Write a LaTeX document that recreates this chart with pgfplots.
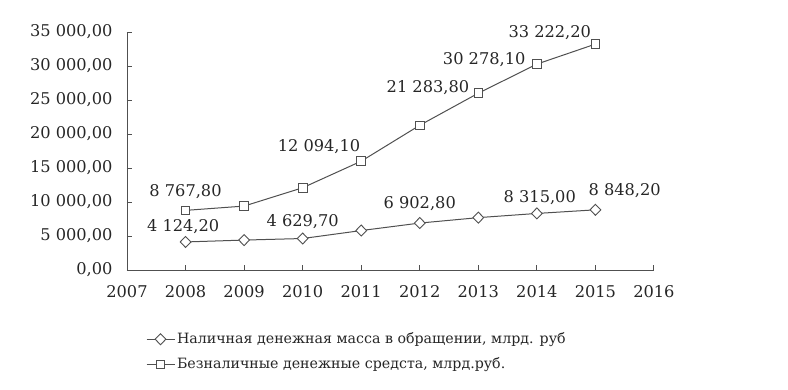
\documentclass[border=0pt]{standalone}
\usepackage{pgfplots}
\pgfplotsset{compat=1.18}
\usepackage{fontspec}
\setmainfont{DejaVu Serif}
\definecolor{ln}{HTML}{505050}
\definecolor{tx}{HTML}{262626}
\begin{document}
\fontsize{16}{19}\selectfont
\begin{tikzpicture}
\path[use as bounding box] (0,0) rectangle (788pt,390pt);
\begin{axis}[
  at={(127pt,120pt)}, anchor=south west,
  scale only axis, width=527pt, height=238pt,
  xmin=2007, xmax=2016, ymin=0, ymax=35000,
  axis x line*=bottom, axis y line*=left,
  axis line style={ln, line width=0.9pt, -},
  tick style={ln, line width=0.9pt},
  major tick length=5pt,
  tick align=inside,
  xtick={2007,...,2016},
  ytick={0,5000,...,35000},
  scaled y ticks=false,
  /pgf/number format/assume math mode=true,
  yticklabel style={xshift=-9pt, /pgf/number format/.cd, fixed, fixed zerofill, precision=2, use comma, 1000 sep={\ }},
  xticklabel style={yshift=-10pt, /pgf/number format/.cd, 1000 sep={}},
  ticklabel style={text=tx, font=\fontsize{16.2}{19}\selectfont},
  legend style={at={(0.03,-0.245)}, anchor=north west, draw=none, fill=none,
    font=\fontsize{14.2}{17}\selectfont, text=tx, row sep=8pt,
    /tikz/every even column/.append style={column sep=4pt}},
  legend cell align=left,
  legend image code/.code={\draw[#1, mark repeat=2, mark phase=2] plot coordinates {(0pt,0pt)(14pt,0pt)(28pt,0pt)};},
  clip=false,
]
\addplot[ln, line width=1pt, mark=diamond*, mark size=5.5pt, mark options={fill=white, draw=ln, line width=0.9pt, xscale=1.3}]
  coordinates {(2008,4124.2)(2009,4400)(2010,4629.7)(2011,5800)(2012,6902.8)(2013,7700)(2014,8315)(2015,8848.2)};
\addlegendentry{Наличная денежная масса в обращении, млрд. руб}
\addplot[ln, line width=1pt, mark=square*, mark size=4.3pt, mark options={fill=white, draw=ln, line width=0.9pt}]
  coordinates {(2008,8767.8)(2009,9400)(2010,12094.1)(2011,16000)(2012,21283.8)(2013,26000)(2014,30278.1)(2015,33222.2)};
\addlegendentry{Безналичные денежные средста, млрд.руб.}
\begin{scope}[every node/.style={text=tx, font=\fontsize{16.2}{19}\selectfont, inner sep=0pt}]
\node at (axis cs:2008,11470) {8 767,80};
\node at (axis cs:2010.28,18090) {12 094,10};
\node at (axis cs:2012.14,26765) {21 283,80};
\node at (axis cs:2013.10,30880) {30 278,10};
\node at (axis cs:2014.22,34850) {33 222,20};
\node at (axis cs:2007.96,6320) {4 124,20};
\node at (axis cs:2010.0,7060) {4 629,70};
\node at (axis cs:2012.0,9700) {6 902,80};
\node at (axis cs:2014.05,10590) {8 315,00};
\node at (axis cs:2015.5,11620) {8 848,20};
\end{scope}
\end{axis}
\end{tikzpicture}
\end{document}
